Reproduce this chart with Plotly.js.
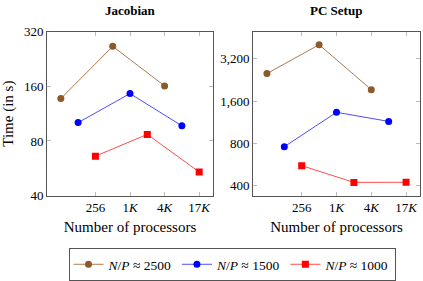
<!DOCTYPE html>
<html><head><meta charset="utf-8">
<script src="https://cdn.plot.ly/plotly-3.0.1.min.js"></script>
<style>html,body{margin:0;padding:0;background:#fff;}</style>
</head><body><div id="plot" style="width:423px;height:281px;"></div>
<script>
const procs2500 = [64, 512, 4096];
const procs1500 = [128, 1024, 8192];
const procs1000 = [256, 2048, 16384];
const jac2500 = [137, 266, 161];
const jac1500 = [101, 146, 97];
const jac1000 = [66, 87, 54];
const pc2500 = [2515, 4040, 1930];
const pc1500 = [755, 1330, 1145];
const pc1000 = [553, 420, 421];
const xTickVals = [256, 1024, 4096, 16384];
const xTickText = ["256", "1<i>K</i>", "4<i>K</i>", "17<i>K</i>"];
const jacTickVals = [40, 80, 160, 320];
const jacTickText = ["40", "80", "160", "320"];
const pcTickVals = [400, 800, 1600, 3200];
const pcTickText = ["400", "800", "1,600", "3,200"];
const seriesNames = ["<i>N</i>/<i>P</i> ≈ 2500", "<i>N</i>/<i>P</i> ≈ 1500", "<i>N</i>/<i>P</i> ≈ 1000"];

const colors = ["#8B5A2B", "#0000FF", "#FF0000"];
const lineColors = ["#A97C52", "#4D4DFF", "#FF4D4D"];
const symbols = ["circle", "circle", "square"];
const xs = [procs2500, procs1500, procs1000];
const jac = [jac2500, jac1500, jac1000];
const pc = [pc2500, pc1500, pc1000];

const traces = [];
for (let i = 0; i < 3; i++) {
  traces.push({x: xs[i], y: jac[i], xaxis: 'x', yaxis: 'y', type: 'scatter', mode: 'lines+markers',
    name: seriesNames[i], legendgroup: 'g' + i,
    line: {color: lineColors[i], width: 1}, marker: {color: colors[i], symbol: symbols[i], size: 7}});
}
for (let i = 0; i < 3; i++) {
  traces.push({x: xs[i], y: pc[i], xaxis: 'x2', yaxis: 'y2', type: 'scatter', mode: 'lines+markers',
    name: seriesNames[i], legendgroup: 'g' + i, showlegend: false,
    line: {color: lineColors[i], width: 1}, marker: {color: colors[i], symbol: symbols[i], size: 7}});
}

const fam = 'Liberation Serif, serif';
const font = {family: fam, size: 13, color: '#000'};
const xr = [Math.log10(Math.pow(2, 5.2)), Math.log10(Math.pow(2, 14.8))];
const axisCommon = {showgrid: false, zeroline: false, showline: true, linecolor: '#555', linewidth: 1,
  mirror: 'allticks', ticks: 'inside', ticklen: 4, tickcolor: '#bbb', tickwidth: 1, tickfont: font};

const layout = {
  width: 423, height: 281,
  margin: {l: 0, r: 0, t: 0, b: 0},
  paper_bgcolor: '#fff', plot_bgcolor: '#fff',
  font: font,
  showlegend: true,
  xaxis: Object.assign({}, axisCommon, {type: 'log', domain: [47/423, 213/423], range: xr,
    tickmode: 'array', tickvals: xTickVals, ticktext: xTickText, anchor: 'y',
    title: {text: 'Number of processors', font: {family: fam, size: 15}, standoff: 7}}),
  yaxis: Object.assign({}, axisCommon, {type: 'log', domain: [1 - 197/281, 1 - 32/281],
    range: [Math.log10(40), Math.log10(320)], tickmode: 'array', tickvals: jacTickVals, ticktext: jacTickText, anchor: 'x',
    title: {text: 'Time (in s)', font: {family: fam, size: 15}, standoff: 9}}),
  xaxis2: Object.assign({}, axisCommon, {type: 'log', domain: [253/423, 420/423], range: xr,
    tickmode: 'array', tickvals: xTickVals, ticktext: xTickText, anchor: 'y2',
    title: {text: 'Number of processors', font: {family: fam, size: 15}, standoff: 7}}),
  yaxis2: Object.assign({}, axisCommon, {type: 'log', domain: [1 - 197/281, 1 - 32/281],
    range: [Math.log10(338), Math.log10(5000)], tickmode: 'array', tickvals: pcTickVals, ticktext: pcTickText, anchor: 'x2'}),
  legend: {orientation: 'h', x: 232/423, xanchor: 'center', y: 1 - 250/281, yanchor: 'top',
    bordercolor: '#555', borderwidth: 1, font: {family: fam, size: 13.5}, itemwidth: 30, bgcolor: '#fff'},
  annotations: [
    {text: '<b>Jacobian</b>', xref: 'paper', yref: 'paper', x: 130/423, y: 1 - 11/281, showarrow: false,
      font: {family: fam, size: 13}, xanchor: 'center', yanchor: 'middle'},
    {text: '<b>PC Setup</b>', xref: 'paper', yref: 'paper', x: 336/423, y: 1 - 11/281, showarrow: false,
      font: {family: fam, size: 13}, xanchor: 'center', yanchor: 'middle'}
  ]
};

Plotly.newPlot('plot', traces, layout, {displayModeBar: false, staticPlot: true});
</script></body></html>
